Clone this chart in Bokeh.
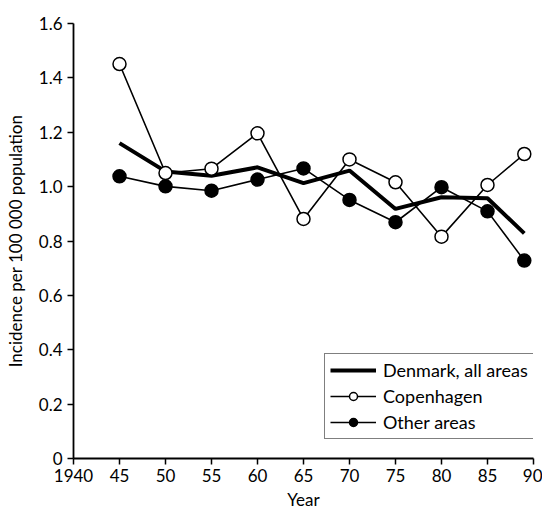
from bokeh.plotting import figure
from bokeh.models import Range1d, FixedTicker, Legend, LegendItem
from bokeh.embed import file_html
from bokeh.resources import INLINE

years = [1945, 1950, 1955, 1960, 1965, 1970, 1975, 1980, 1985, 1989]
denmark = [1.16, 1.056, 1.04, 1.071, 1.013, 1.059, 0.918, 0.961, 0.957, 0.828]
copenhagen = [1.451, 1.05, 1.066, 1.196, 0.881, 1.10, 1.016, 0.816, 1.006, 1.12]
other = [1.038, 1.001, 0.985, 1.026, 1.067, 0.951, 0.869, 0.998, 0.909, 0.728]

x_ticks = [1940, 1945, 1950, 1955, 1960, 1965, 1970, 1975, 1980, 1985, 1990]
x_tick_labels = ["1940", "45", "50", "55", "60", "65", "70", "75", "80", "85", "90"]
y_ticks = [0, 0.2, 0.4, 0.6, 0.8, 1.0, 1.2, 1.4, 1.6]
y_tick_labels = ["0", "0.2", "0.4", "0.6", "0.8", "1.0", "1.2", "1.4", "1.6"]

FONT = "Lato"

p = figure(width=542, height=513, output_backend="svg", toolbar_location=None,
           x_range=Range1d(1940, 1990), y_range=Range1d(0, 1.6),
           min_border_left=73, min_border_right=9, min_border_top=23, min_border_bottom=55)
p.outline_line_color = None
p.grid.visible = False
p.background_fill_color = "white"

for ax in (p.xaxis[0], p.yaxis[0]):
    ax.axis_line_width = 1.8
    ax.axis_line_color = "black"
    ax.major_tick_line_width = 1.5
    ax.major_tick_line_color = "black"
    ax.major_tick_out = 6
    ax.major_tick_in = 0
    ax.minor_tick_line_color = None
    ax.major_label_text_font = FONT
    ax.major_label_text_font_size = "17px"
    ax.major_label_text_color = "black"
    ax.axis_label_text_font = FONT
    ax.axis_label_text_font_size = "17px"
    ax.axis_label_text_font_style = "normal"
    ax.axis_label_text_color = "black"

p.xaxis.ticker = FixedTicker(ticks=x_ticks)
p.xaxis.major_label_overrides = {t: l for t, l in zip(x_ticks, x_tick_labels)}
p.yaxis.ticker = FixedTicker(ticks=y_ticks)
p.yaxis.major_label_overrides = {t: l for t, l in zip(y_ticks, y_tick_labels)}
p.xaxis.axis_label = "Year"
p.yaxis.axis_label = "Incidence per 100 000 population"
p.xaxis.major_label_standoff = 4
p.xaxis.axis_label_standoff = 4
p.yaxis.major_label_standoff = 5
p.yaxis.axis_label_standoff = 10

r_den = p.line(years, denmark, line_color="black", line_width=4)
r_cop_l = p.line(years, copenhagen, line_color="black", line_width=1.6)
r_oth_l = p.line(years, other, line_color="black", line_width=1.6)
r_oth_s = p.scatter(years, other, size=13, marker="circle", fill_color="black", line_color="black", line_width=1.5)
r_cop_s = p.scatter(years, copenhagen, size=13, marker="circle", fill_color="white", line_color="black", line_width=1.5)

legend = Legend(items=[
    LegendItem(label="Denmark, all areas", renderers=[r_den]),
    LegendItem(label="Copenhagen", renderers=[r_cop_l, r_cop_s]),
    LegendItem(label="Other areas", renderers=[r_oth_l, r_oth_s]),
], location=(251, 19))
legend.border_line_color = "black"
legend.border_line_width = 1.5
legend.label_text_font = FONT
legend.label_text_font_size = "18px"
legend.label_text_color = "black"
legend.label_height = 20
legend.glyph_width = 46
legend.glyph_height = 20
legend.spacing = 4
legend.padding = 5
legend.margin = 0
legend.label_standoff = 7
legend.background_fill_alpha = 1
p.add_layout(legend, "center")

open("out.html", "w").write(file_html(p, INLINE))
